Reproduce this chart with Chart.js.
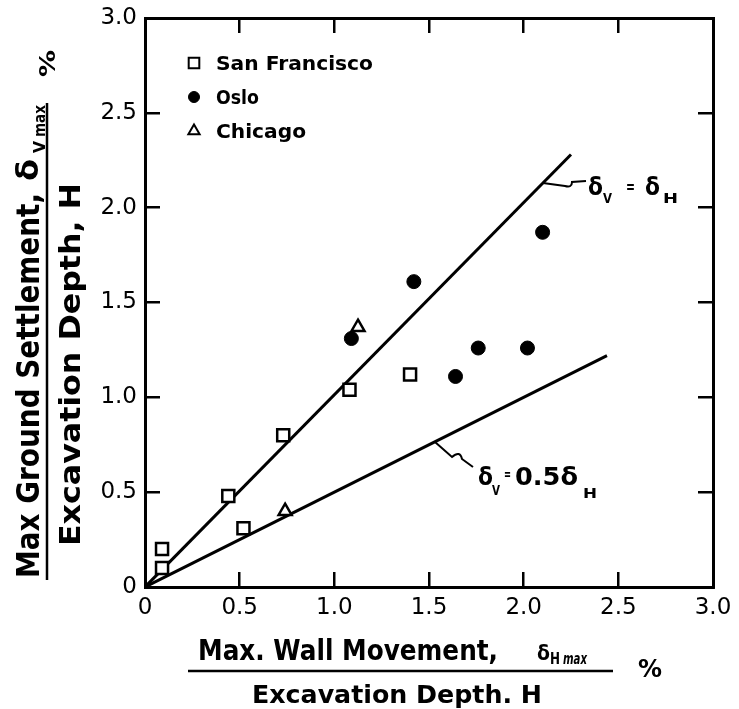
<!DOCTYPE html>
<html>
<head>
<meta charset="utf-8">
<script src="https://cdn.jsdelivr.net/npm/chart.js@4.4.1/dist/chart.umd.min.js"></script>
<style>
  body { margin: 0; background: #fff; }
  #wrap { width: 739px; height: 709px; }
</style>
</head>
<body>
<div id="wrap"><canvas id="chart" width="739" height="709"></canvas></div>
<script>
// values (percent of excavation depth)
const axisTicks = [0, 0.5, 1.0, 1.5, 2.0, 2.5, 3.0];

const sanFranciscoX = [0.09, 0.09, 0.44, 0.52, 0.73, 1.08, 1.40];
const sanFranciscoY = [0.20, 0.10, 0.48, 0.31, 0.80, 1.04, 1.12];

const osloX = [1.09, 1.42, 1.64, 1.76, 2.02, 2.10];
const osloY = [1.31, 1.61, 1.11, 1.26, 1.26, 1.87];

const chicagoX = [0.74, 1.125];
const chicagoY = [0.40, 1.37];

// reference lines dV = dH and dV = 0.5 dH
const lineEqualX = [0, 2.25];
const lineEqualY = [0, 2.28];
const lineHalfX = [0, 2.44];
const lineHalfY = [0, 1.22];

const legendItems = ['San Francisco', 'Oslo', 'Chicago'];

const FONT = '"DejaVu Sans", sans-serif';

function pts(xs, ys) {
    return xs.map((x, i) => ({ x: x, y: ys[i] }));
}

// draw text squeezed/stretched to a given width
function spanText(ctx, text, x, y, w, font) {
    ctx.font = font;
    const m = ctx.measureText(text).width;
    ctx.save();
    ctx.translate(x, y);
    ctx.scale(w / m, 1);
    ctx.fillText(text, 0, 0);
    ctx.restore();
}

// same thing, rotated to read bottom-to-top
function spanTextUp(ctx, text, bx, sy, w, font) {
    ctx.save();
    ctx.translate(bx, sy);
    ctx.rotate(-Math.PI / 2);
    spanText(ctx, text, 0, 0, w, font);
    ctx.restore();
}

const decorations = {
    id: 'decorations',
    afterDraw(chart) {
        const ctx = chart.ctx;
        ctx.save();
        ctx.fillStyle = '#000';
        ctx.strokeStyle = '#000';
        ctx.textAlign = 'left';
        ctx.textBaseline = 'alphabetic';

        // y axis title (fraction)
        spanTextUp(ctx, 'Max Ground Settlement,', 39, 578, 385, 'bold 32px ' + FONT);
        spanTextUp(ctx, 'δ', 38, 181, 22, 'bold 30px ' + FONT);
        spanTextUp(ctx, 'V', 45, 153, 12, 'bold 16px ' + FONT);
        spanTextUp(ctx, 'max', 45, 137, 32, 'bold 15px ' + FONT);
        spanTextUp(ctx, 'Excavation Depth, H', 80, 546, 363, 'bold 29px ' + FONT);
        spanTextUp(ctx, '%', 55, 77, 27, 'bold 22px ' + FONT);
        ctx.lineWidth = 2.5;
        ctx.beginPath();
        ctx.moveTo(47, 103);
        ctx.lineTo(47, 580);
        ctx.stroke();

        // x axis title (fraction)
        spanText(ctx, 'Max. Wall Movement,', 198, 660, 300, 'bold 28px ' + FONT);
        spanText(ctx, 'δ', 537, 660, 13, 'bold 22px ' + FONT);
        spanText(ctx, 'H', 550, 664, 10, 'bold 15px ' + FONT);
        spanText(ctx, 'max', 563, 664, 24, 'italic bold 15px ' + FONT);
        spanText(ctx, 'Excavation Depth. H', 252, 703, 290, 'bold 24px ' + FONT);
        spanText(ctx, '%', 638, 677, 24, 'bold 24px ' + FONT);
        ctx.beginPath();
        ctx.moveTo(188, 671);
        ctx.lineTo(613, 671);
        ctx.stroke();

        // line labels
        spanText(ctx, 'δ', 588, 195, 15, 'bold 24px ' + FONT);
        spanText(ctx, 'V', 603, 203, 9, 'bold 14px ' + FONT);
        spanText(ctx, '=', 626, 193, 9, 'bold 18px ' + FONT);
        spanText(ctx, 'δ', 645, 195, 15, 'bold 24px ' + FONT);
        spanText(ctx, 'H', 663, 203, 15, 'bold 14px ' + FONT);

        spanText(ctx, 'δ', 478, 485, 15, 'bold 24px ' + FONT);
        spanText(ctx, 'V', 492, 495, 8, 'bold 14px ' + FONT);
        spanText(ctx, '=', 504, 479, 7, 'bold 16px ' + FONT);
        spanText(ctx, '0.5δ', 515, 485, 63, 'bold 24px ' + FONT);
        spanText(ctx, 'H', 583, 498, 14, 'bold 14px ' + FONT);

        // leaders
        ctx.lineWidth = 2;
        ctx.beginPath();
        ctx.moveTo(543, 183);
        ctx.lineTo(565, 186);
        ctx.quadraticCurveTo(572, 188, 572, 182);
        ctx.lineTo(586, 181);
        ctx.stroke();
        ctx.beginPath();
        ctx.moveTo(435, 442);
        ctx.lineTo(452, 457);
        ctx.quadraticCurveTo(460, 450, 462, 459);
        ctx.lineTo(473, 467);
        ctx.stroke();

        // legend
        const h = Chart.helpers;
        const styles = [
            { pointStyle: 'rect', radius: 7.5, rotation: 0, borderWidth: 2, fill: '#fff' },
            { pointStyle: 'circle', radius: 5.5, rotation: 0, borderWidth: 1, fill: '#000' },
            { pointStyle: 'triangle', radius: 6.5, rotation: 0, borderWidth: 2, fill: '#fff' }
        ];
        const rows = [63, 97, 131];
        const widths = [157, 43, 90];
        legendItems.forEach((name, i) => {
            ctx.fillStyle = styles[i].fill;
            ctx.strokeStyle = '#000';
            ctx.lineWidth = styles[i].borderWidth;
            h.drawPoint(ctx, styles[i], 194, rows[i]);
            ctx.fillStyle = '#000';
            spanText(ctx, name, 216, rows[i] + 7, widths[i], 'bold 19px ' + FONT);
        });
        ctx.restore();
    }
};

const tickCallback = v => (v === 0 ? '0' : v.toFixed(1));

const innerGrid = {
    drawOnChartArea: false,
    drawTicks: true,
    tickLength: -15,
    lineWidth: 2.5,
    color: '#000'
};
const frame = { display: true, width: 3, color: '#000' };

new Chart(document.getElementById('chart'), {
    type: 'scatter',
    data: {
        datasets: [
            {
                label: 'San Francisco',
                data: pts(sanFranciscoX, sanFranciscoY),
                pointStyle: 'rect',
                pointRadius: 8.5,
                pointBorderWidth: 2.5,
                pointBackgroundColor: '#fff',
                pointBorderColor: '#000',
                order: 0
            },
            {
                label: 'Oslo',
                data: pts(osloX, osloY),
                pointStyle: 'circle',
                pointRadius: 7,
                pointBorderWidth: 1,
                pointBackgroundColor: '#000',
                pointBorderColor: '#000',
                order: 0
            },
            {
                label: 'Chicago',
                data: pts(chicagoX, chicagoY),
                pointStyle: 'triangle',
                pointRadius: 7.5,
                pointBorderWidth: 2.5,
                pointBackgroundColor: '#fff',
                pointBorderColor: '#000',
                order: 0
            },
            {
                label: 'δV = δH',
                data: pts(lineEqualX, lineEqualY),
                showLine: true,
                borderColor: '#000',
                borderWidth: 3,
                pointRadius: 0,
                order: 1
            },
            {
                label: 'δV = 0.5δH',
                data: pts(lineHalfX, lineHalfY),
                showLine: true,
                borderColor: '#000',
                borderWidth: 3,
                pointRadius: 0,
                order: 1
            }
        ]
    },
    options: {
        responsive: false,
        animation: false,
        layout: { padding: 0 },
        plugins: {
            legend: { display: false },
            tooltip: { enabled: false }
        },
        scales: {
            x: {
                type: 'linear',
                position: 'bottom',
                min: 0,
                max: 3,
                afterBuildTicks: s => { s.ticks = axisTicks.map(v => ({ value: v })); },
                afterFit: s => { s.height = 122; s.paddingLeft = 0; s.paddingRight = 0; },
                grid: innerGrid,
                border: frame,
                ticks: {
                    padding: 22,
                    color: '#000',
                    font: { family: FONT, size: 23 },
                    callback: tickCallback
                }
            },
            y: {
                type: 'linear',
                position: 'left',
                min: 0,
                max: 3,
                afterBuildTicks: s => { s.ticks = axisTicks.map(v => ({ value: v })); },
                afterFit: s => { s.width = 145; s.paddingTop = 0; s.paddingBottom = 0; },
                grid: innerGrid,
                border: frame,
                ticks: {
                    padding: 23,
                    color: '#000',
                    font: { family: FONT, size: 23 },
                    callback: tickCallback
                }
            },
            x2: {
                type: 'linear',
                position: 'top',
                min: 0,
                max: 3,
                afterBuildTicks: s => { s.ticks = axisTicks.map(v => ({ value: v })); },
                afterFit: s => { s.height = 18; },
                grid: innerGrid,
                border: frame,
                ticks: { display: false }
            },
            y2: {
                type: 'linear',
                position: 'right',
                min: 0,
                max: 3,
                afterBuildTicks: s => { s.ticks = axisTicks.map(v => ({ value: v })); },
                afterFit: s => { s.width = 26; },
                grid: innerGrid,
                border: frame,
                ticks: { display: false }
            }
        }
    },
    plugins: [decorations]
});
</script>
</body>
</html>
